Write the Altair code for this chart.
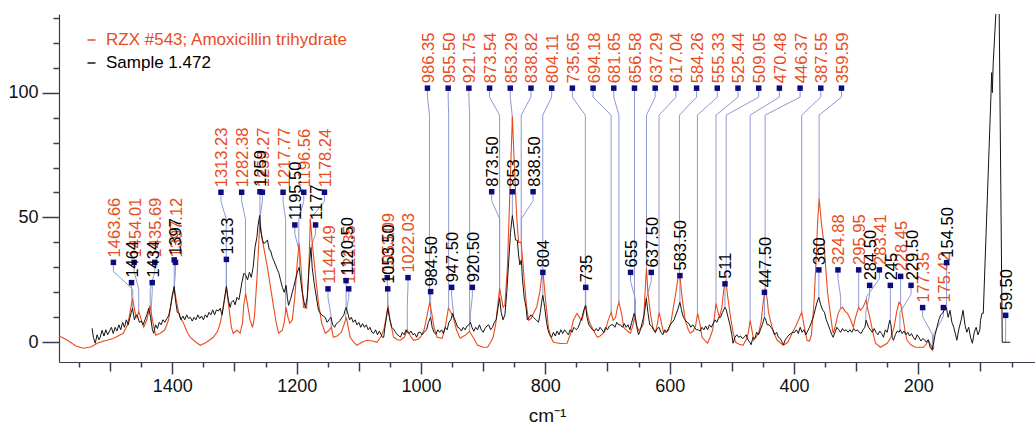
import altair as alt
import numpy as np
import pandas as pd

REF_NAME = "RZX #543; Amoxicillin trihydrate"
SMP_NAME = "Sample 1.472"

# ---------------- spectra (wavenumber cm-1, intensity) ----------------
ref_spectrum = [
    (1582, 2.5), (1570, 1.0), (1555, -1.5), (1543, -2.4), (1530, -1.8), (1521, -0.4), (1510, 0.5), (1495, 1.5), (1485, 2.8), (1479, 3.6),
    (1472, 7), (1468, 12), (1464, 17.6), (1460, 12), (1457, 10), (1454, 12.4), (1450, 9), (1446, 6), (1441, 9), (1436, 14.8),
    (1432, 9), (1427, 2.8), (1420, 3.5), (1412, 5), (1406, 9), (1401, 17), (1397, 21.6), (1393, 16), (1388, 10), (1382, 7.6),
    (1376, 4), (1371, 2), (1362, 0), (1355, -1.2), (1345, 0), (1334, 2), (1327, 4.5), (1323, 7.6), (1318, 14), (1313, 22),
    (1309, 14), (1305, 6), (1302, 3.6), (1296, 4.8), (1291, 3.6), (1287, 8), (1285, 15), (1282, 19.6), (1279, 15), (1275, 9),
    (1271, 6), (1268, 10), (1264, 25), (1259, 48.8), (1256, 42), (1253, 38), (1247, 30), (1242, 22), (1237, 14), (1233, 8),
    (1229, 3.6), (1223, 4.8), (1220, 8), (1217, 14), (1214, 10), (1211, 7.6), (1207, 9), (1203, 18), (1199, 32), (1196, 39.6),
    (1193, 30), (1189, 14), (1184, 13.6), (1181, 25), (1178, 49.6), (1175, 40), (1170, 27.6), (1165, 16), (1160, 8), (1154, 3.6),
    (1149, 4.5), (1144, 6), (1141, 2), (1135, 2.5), (1128, 4), (1124, 7), (1120, 10), (1117, 6), (1114, 2), (1108, 0),
    (1103, -1.2), (1095, 0), (1087, 0.8), (1078, 0.5), (1071, 0), (1065, 2), (1060, 4.8), (1056, 10), (1053, 14.8), (1050, 9),
    (1044, 2), (1038, 1), (1033, 0.8), (1027, 2), (1022, 4.8), (1017, 2.5), (1012, 0.8), (1005, 1.2), (1001, 2), (995, 5),
    (990, 11), (986, 16), (983, 12), (979, 6), (974, 2), (966, 1.6), (961, 6), (956, 13.6), (952, 12), (948, 10),
    (943, 5), (937, 1.6), (929, 2.8), (922, 4.4), (915, 1.5), (909, -1.2), (900, -2), (893, -2), (888, 0), (884, 2),
    (880, 7), (876, 16), (873.5, 21.6), (870, 17), (868, 14), (865, 15), (861, 30), (857, 60), (853, 90.5), (850, 72),
    (846, 50), (843, 40), (839, 40), (836, 32), (834, 24.8), (830, 14), (827, 8.8), (823, 9.5), (819, 11.6), (814, 14),
    (809, 20), (806, 26), (804, 28.8), (800, 18), (795, 6), (791, 2), (787, 0), (776, -0.5), (765, -0.4), (760, 3),
    (755, 8.8), (749, 11.6), (744, 9.5), (741, 8.8), (738, 12), (735.5, 14.8), (732, 11), (729, 8), (725, 6), (720, 3.5),
    (716, 2), (712, 2.5), (707, 3.6), (703, 5), (699, 8.8), (694, 12), (691, 8.8), (687, 10), (684, 14), (681.5, 16),
    (677, 11), (674, 6), (668, 4.5), (663, 3.6), (659, 7), (656.5, 10), (653, 6.5), (650, 4.8), (645, 6), (642, 7.6),
    (640, 18), (637.3, 29.6), (635, 20), (631, 11.6), (627, 6), (623, 4), (620, 7), (617, 12), (613, 7.5), (610, 4),
    (606, 4), (602, 4.8), (598, 8), (594, 14), (590, 20), (587, 25), (584, 27.6), (580, 18), (575, 8.8), (570, 5),
    (567, 3.6), (562, 4.5), (558, 7), (555, 11.6), (551, 7), (548, 2), (539, -0.4), (535, 2), (531, 4.8), (528, 10),
    (525.5, 15.6), (522, 12), (520, 10), (516, 14), (513, 21), (509.5, 24.8), (507, 19), (502, 10), (498, 4), (494, 0),
    (488, -0.8), (482, -1.2), (476, 1.5), (473, 4.5), (470.5, 8.8), (467, 4), (465, 0.8), (461, 2), (457, 3.6), (453, 8),
    (450, 15), (446.5, 21.6), (443, 17), (441, 12), (438, 8.8), (433, 4), (427, 0.8), (417, -1.2), (410, 0), (403, 3.6),
    (396, 7), (391, 10), (387.5, 12), (384, 7), (379, 0.8), (375, 0.5), (372, 3), (368, 15), (365, 30), (362, 48),
    (359.5, 57.6), (356, 48), (352, 40), (349.5, 31.6), (346, 20), (341.6, 11.6), (338, 5), (336.7, 3.6), (333, 7), (329, 11.6),
    (325, 13.5), (322, 14), (318, 12.5), (314, 11.6), (309, 9), (304.5, 6), (301, 10), (296, 14), (293, 12.8), (289, 14),
    (284, 16.8), (281, 13), (277, 8.8), (273, 4), (269, -0.4), (261, -2), (250, -0.4), (244, 2), (239, 6), (235, 12),
    (231, 16), (228, 15), (224, 8.8), (221, 4), (218, 0.8), (212, -1), (205, -2), (198, -2), (192, -2), (188, -1),
    (184, 0.8), (180, -1), (177, -3.2), (175, -2),
]

sample_spectrum = [
    (1529, 5.6), (1527, 2), (1524, -0.4), (1521, 3), (1518, 1), (1516, 2), (1513, 4.8), (1510, 2.5), (1507, 5), (1504, 3),
    (1501, 4.5), (1498, 6), (1495, 3.5), (1492, 6), (1489, 4.5), (1486, 7), (1483, 5), (1480, 8), (1477, 6), (1474, 9),
    (1471, 7), (1468, 10), (1466, 12), (1464, 13.6), (1461, 9), (1458, 11), (1456, 10.5), (1453, 8), (1450, 8.5), (1447, 7),
    (1444, 9), (1441, 11), (1438, 13.6), (1435, 10), (1432, 5), (1430, 3.6), (1427, 7), (1424, 5.5), (1421, 8), (1418, 7),
    (1415, 9), (1412, 8), (1409, 9.5), (1406, 10.5), (1403, 14), (1400, 19), (1397, 22.4), (1395, 17), (1392, 12), (1389, 11.6),
    (1386, 9), (1383, 10.5), (1380, 9), (1377, 11), (1374, 9.5), (1371, 10), (1368, 8.5), (1365, 10), (1362, 9), (1359, 11),
    (1356, 9.5), (1353, 10.5), (1350, 9), (1347, 11), (1344, 10), (1341, 12), (1338, 11), (1335, 13), (1332, 11), (1329, 13),
    (1326, 12.5), (1323, 13.6), (1320, 11), (1317, 16), (1313, 22.4), (1310, 17), (1307, 14), (1305, 16), (1302, 16.8), (1299, 15),
    (1296, 18), (1293, 17), (1291, 19.6), (1288, 24), (1285, 27.6), (1282, 27), (1279, 25), (1276, 28), (1273, 26), (1270, 30),
    (1267, 38), (1264, 42), (1262, 47), (1259.5, 50.8), (1258, 45), (1255, 41), (1253, 39.6), (1250, 40), (1247, 41), (1244, 37),
    (1242, 36.8), (1239, 34), (1237, 32.8), (1234, 31), (1231, 29), (1229, 28), (1226, 25), (1223, 22), (1220, 20), (1217, 22.8),
    (1215, 18), (1213, 14.8), (1210, 17), (1207, 20), (1205, 22), (1202, 25), (1199, 28), (1196, 30), (1194, 26), (1191, 20),
    (1188, 16), (1186, 14), (1183, 18), (1180, 30), (1177, 38), (1175, 30), (1172, 24), (1170, 20.8), (1167, 16), (1165, 13),
    (1163, 12), (1160, 11), (1157, 10.5), (1154, 10), (1151, 8), (1148, 9), (1145, 10), (1142, 7), (1139, 6), (1136, 7.5),
    (1133, 8), (1130, 8.8), (1127, 10), (1124, 11), (1122, 13), (1120.5, 14), (1117, 11), (1115, 9), (1112, 10), (1109, 8),
    (1106, 9), (1103, 7), (1100, 8), (1097, 6), (1094, 7.5), (1091, 6), (1088, 7), (1085, 5), (1082, 6), (1079, 4),
    (1076, 3.6), (1073, 5), (1070, 3), (1067, 4.5), (1064, 3), (1062, 2), (1060, 2), (1058, 6), (1055, 11), (1053.5, 13.6),
    (1050, 9), (1047, 6), (1044, 5.2), (1041, 4), (1038, 3), (1035, 2.5), (1033, 2), (1030, 4), (1027, 3), (1024, 5),
    (1022, 4), (1019, 3.5), (1016, 4.5), (1013, 3), (1010, 3.5), (1007, 2), (1004, 4), (1001, 4), (998, 3), (995, 4),
    (991, 5), (988, 8), (984.5, 10), (982, 6), (979, 4), (976, 3.2), (973, 5), (970, 4), (967, 5), (964, 3.5),
    (961, 6), (958, 5), (955, 8), (952, 9), (949, 11.6), (947, 10), (944, 8), (941, 6), (938, 5.6), (935, 4.5),
    (932, 6), (929, 5), (926, 6.5), (923, 7), (920.5, 8), (918, 6), (915, 4.4), (912, 6), (909, 5), (906, 7),
    (903, 5), (900, 4), (897, 5.5), (894, 6.5), (891, 7), (888, 5), (885, 6), (882, 8), (879, 9), (876, 14),
    (873.5, 17.6), (871, 12), (868, 9), (865, 11), (862, 20), (859, 32), (856, 44), (853, 50.8), (850, 45), (848, 41),
    (845, 40.8), (843, 35), (841, 31), (838.5, 33), (837, 26), (834, 18), (831, 14), (829, 9), (826, 10), (823, 11),
    (819, 10), (815, 9), (811, 8), (808, 12), (806, 16), (804, 18.8), (801, 14), (798, 8), (796, 5.2), (793, 3),
    (790, 2), (787, 4), (784, 2.5), (781, 4.5), (778, 3), (775, 5), (772, 3.5), (769, 5), (766, 4), (763, 3),
    (760, 5), (757, 4), (754, 6), (750, 5), (747, 6), (744, 8), (741, 10), (738, 13), (735, 14.8), (733, 10),
    (730, 7), (727, 6), (724, 5), (721, 4.5), (718, 5.5), (715, 4.5), (712, 6), (709, 5), (706, 4), (703, 6),
    (700, 5), (697, 6.5), (694, 7), (691, 7), (688, 6), (685, 8), (682, 7), (679, 7), (676, 6), (673, 7.5),
    (670, 6), (667, 7), (664, 5), (661, 8), (657, 11.6), (655, 10), (652, 5), (650, 3), (647, 5), (644, 8),
    (641, 11), (637.5, 17.6), (635, 12), (632, 7), (629, 6.5), (626, 5), (623, 4), (620, 5.5), (617, 6), (614, 4),
    (611, 3), (608, 5), (605, 4), (602, 5.5), (599, 7), (596, 8), (593, 9), (590, 11), (587, 13), (583.5, 16),
    (581, 13), (578, 10), (575, 9), (572, 8), (569, 7.5), (566, 6), (563, 7), (560, 6), (557, 5), (554, 5),
    (551, 4.5), (548, 6), (545, 5), (542, 6.5), (539, 5), (536, 7), (533, 6), (530, 7.5), (527, 9), (524, 8),
    (521, 10), (518, 10), (515, 12), (511, 14), (509, 13), (506, 10), (503, 7), (500, 3), (498, -0.4), (495, 2),
    (492, 3), (489, 2), (486, 2.5), (483, 1.5), (480, 2), (477, 3), (474, 1), (471, 0), (469, -1), (466, 2),
    (463, 1.5), (460, 4), (457, 3), (454, 5), (451, 7), (447.5, 10), (446, 9.5), (443, 7), (440, 7), (437, 6),
    (434, 5), (431, 3), (428, 4), (425, 2), (422, 1.5), (419, 0), (417, -1), (414, 1), (411, 2), (408, 3),
    (405, 3.5), (402, 4), (399, 4), (396, 5), (393, 3.5), (390, 6), (387, 4), (384, 5), (381, 3), (378, 4.5),
    (375, 6), (372, 8), (369, 10), (366, 13), (363, 16), (360, 18), (357, 15), (354, 13), (351, 12), (348, 9),
    (345, 7), (342, 5), (339, 3), (337, 2), (334, 4), (331, 6), (328, 5), (325, 4), (322, 5.5), (319, 4.5),
    (316, 5), (313, 4), (310, 5), (307, 4), (304, 5.5), (301, 4.5), (298, 5), (295, 4), (292, 3.5), (289, 5),
    (286, 6), (284, 8.8), (280, 6), (277, 5), (274, 4), (271, 5.5), (268, 4), (265, 3), (262, 4.5), (259, 3.5),
    (256, 2), (253, 5), (250, 4), (246, 8.8), (244, 7), (242, 2), (240, 0.8), (237, 3), (234, 4.5), (231, 4),
    (229, 5), (226, 3.5), (223, 4.5), (220, 3), (217, 4), (214, 2.5), (211, 3.5), (208, 2), (205, 1), (202, 3),
    (199, 2), (196, 0.5), (193, 1.5), (190, 1), (187, 0), (184, 1), (181, -2), (178, -3), (176, -1), (173, 3),
    (170, 6), (167, 9), (164, 11), (161, 11.6), (158, 13), (155, 14), (152, 10), (149, 12.8), (146, 8), (143, 6),
    (140, 3), (138, 0.8), (135, 5), (131, 9), (128, 12.8), (125, 7), (122, 4), (119, 6), (116, 2), (113, -0.4),
    (110, 4), (107, 6), (104, 3), (101, 5), (100, 8.8), (97.5, 11.6), (95.5, 11.6), (83, 100), (82, 108), (81, 100),
    (79.5, 112), (74.5, 135), (72, 170), (70, 135), (65, 0), (58, 0), (52, 0),
]

# ---------------- peak annotations ----------------
ref_peak_wn = [1463.66, 1454.01, 1435.69, 1397.12,
               1313.23, 1282.38, 1259.27, 1217.77, 1196.56, 1178.24,
               1144.49, 1121.35, 1053.09, 1022.03,
               986.35, 955.50, 921.75, 873.54, 853.29, 838.82, 804.11, 735.65, 694.18, 681.65, 656.58,
               637.29, 617.04, 584.26, 555.33, 525.44, 509.05, 470.48, 446.37, 387.55, 359.59,
               324.88, 295.95, 283.41, 228.45, 177.35, 175.42]
ref_peak_level = [32, 32, 32, 32,
                  60.1, 60.1, 60.1, 60.1, 60.1, 60.1,
                  21.4, 21.4, 25.9, 25.9,
                  101.8, 101.8, 101.8, 101.8, 101.8, 101.8, 101.8, 101.8, 101.8, 101.8, 101.8,
                  101.8, 101.8, 101.8, 101.8, 101.8, 101.8, 101.8, 101.8, 101.8, 101.8,
                  29, 29, 29, 26.4, 13.9, 13.9]

smp_peak_wn = [1464, 1434, 1397, 1313, 1259, 1195.5, 1177, 1120.5, 1053.5, 984.5, 947.5, 920.5,
               873.5, 853, 838.5, 804, 735, 655, 637.5, 583.5, 511, 447.5, 360, 284.5, 245, 229.5,
               154.5, 59.5]
smp_peak_level = [23.9, 23.9, 33, 33.2, 60.3, 47, 47, 24.7, 21.4, 20.3, 22, 22,
                  60.3, 60.3, 60.3, 28, 22, 28, 28, 26.7, 23.4, 20, 29, 22.8, 22.8, 22.8,
                  31.9, 10.8]

x_tick_values = list(range(50, 1551, 50))
y_tick_values = list(range(0, 131, 10))

ORANGE = "#e84c1e"
BLACK = "#141414"
NAVY = "#0c0c80"
LEADER = "#8f98d4"
FONT = "Liberation Sans"
GAP = 33.3  # minimum label spacing, cm-1


def spread(values, gap):
    """Place labels in order, at least `gap` apart, each overlapping run centred on its median peak."""
    order = sorted(range(len(values)), key=lambda i: -values[i])
    clusters = []
    for i in order:
        clusters.append([values[i]])
        while len(clusters) > 1:
            a, b = clusters[-2], clusters[-1]
            a_last = np.median(a) - (len(a) - 1) / 2 * gap
            b_first = np.median(b) + (len(b) - 1) / 2 * gap
            if a_last - b_first < gap:
                clusters[-2] = a + b
                clusters.pop()
            else:
                break
    placed = []
    for c in clusters:
        m, n = float(np.median(c)), len(c)
        placed += [m + ((n - 1) / 2 - k) * gap for k in range(n)]
    out = [0.0] * len(values)
    for rank, i in enumerate(order):
        out[i] = placed[rank]
    return out


def fmt(v, always_decimals):
    if always_decimals or v % 1:
        return f"{v:.2f}"
    return f"{int(v)}"


def annotate(peaks, levels, spectrum, series, always_decimals):
    wn = np.array([p[0] for p in spectrum], dtype=float)[::-1]
    it = np.array([p[1] for p in spectrum], dtype=float)[::-1]
    cols = [0.0] * len(peaks)
    for lev in sorted(set(levels)):
        idx = [i for i, l in enumerate(levels) if l == lev]
        pos = spread([peaks[i] for i in idx], GAP)
        for i, p in zip(idx, pos):
            cols[i] = p
    marks, lines = [], []
    for i, (p, lev) in enumerate(zip(peaks, levels)):
        top = float(np.interp(p, wn, it))
        mid = max(top, lev - 10.8)
        pts = [(cols[i], lev), (cols[i], lev - 3.6), (p, mid), (p, top)]
        for k, (x, y) in enumerate(pts):
            lines.append({"id": f"{series}{i}", "k": k, "x": x, "y": y})
        marks.append({"x": cols[i], "y": lev, "label": fmt(p, always_decimals)})
    return pd.DataFrame(marks), pd.DataFrame(lines)


ref_marks, ref_lines = annotate(ref_peak_wn, ref_peak_level, ref_spectrum, "r", True)
smp_marks, smp_lines = annotate(smp_peak_wn, smp_peak_level, sample_spectrum, "s", False)
leaders = pd.concat([ref_lines, smp_lines], ignore_index=True)

ref_df = pd.DataFrame(ref_spectrum, columns=["x", "y"])
ref_df["s"] = REF_NAME
smp_df = pd.DataFrame(sample_spectrum, columns=["x", "y"])
smp_df["t"] = SMP_NAME

x_scale = alt.Scale(domain=[12.3, 1582.3], reverse=True, nice=False, zero=False)
y_scale = alt.Scale(domain=[-7.9, 131.5], nice=False, zero=False)
x_axis = alt.Axis(
    values=x_tick_values, format="d", title="cm⁻¹", grid=False,
    labelExpr="datum.value % 200 == 0 ? datum.label : ''",
    tickSize={"expr": "datum.value % 200 == 0 ? 12 : (datum.value % 100 == 0 ? 9 : 5)"},
    labelPadding=3, titlePadding=11, labelOverlap=False, labelFlush=False,
)
y_axis = alt.Axis(
    values=y_tick_values, format="d", title=None, grid=False,
    labelExpr="datum.value % 50 == 0 ? datum.label : ''",
    tickSize={"expr": "datum.value % 50 == 0 ? 17 : 6"},
    labelPadding=4, labelOverlap=False, labelFlush=False,
)
X = alt.X("x:Q", scale=x_scale, axis=x_axis)
Y = alt.Y("y:Q", scale=y_scale, axis=y_axis)

leader_layer = alt.Chart(leaders).mark_line(strokeWidth=1, color=LEADER).encode(
    X, Y, detail="id:N", order="k:Q"
)

legend_common = dict(orient="none", legendX=24, title=None, symbolType="stroke", symbolSize=64,
                     symbolStrokeWidth=1.5, labelFont=FONT, labelFontSize=17, labelOffset=6,
                     padding=0, labelLimit=600)

ref_line = alt.Chart(ref_df).mark_line(clip=True, strokeWidth=1.1).encode(
    X, Y,
    color=alt.Color("s:N", scale=alt.Scale(domain=[REF_NAME], range=[ORANGE]),
                    legend=alt.Legend(legendY=17.5, labelColor=ORANGE, **legend_common)),
)
smp_line = alt.Chart(smp_df).mark_line(clip=True, strokeWidth=1).encode(
    X, Y,
    stroke=alt.Stroke("t:N", scale=alt.Scale(domain=[SMP_NAME], range=[BLACK]),
                      legend=alt.Legend(legendY=40.5, labelColor="#000000", **legend_common)),
)

ref_sq = alt.Chart(ref_marks).mark_square(size=30, color=NAVY, opacity=1).encode(X, Y)
ref_txt = alt.Chart(ref_marks).mark_text(
    angle=270, align="left", baseline="middle", dx=5, dy=1.5,
    font=FONT, fontSize=16.5, color=ORANGE
).encode(X, Y, text="label:N")
smp_sq = alt.Chart(smp_marks).mark_square(size=30, color=NAVY, opacity=1).encode(X, Y)
smp_txt = alt.Chart(smp_marks).mark_text(
    angle=270, align="left", baseline="middle", dx=5, dy=1.5,
    font=FONT, fontSize=16.5, color="#000000"
).encode(X, Y, text="label:N")

chart = alt.layer(
    leader_layer, ref_line, smp_line, ref_sq, ref_txt, smp_sq, smp_txt
).properties(
    width=976, height=348,
    autosize=alt.AutoSizeParams(type="none"),
    padding={"left": 59, "top": 14, "right": 0, "bottom": 66},
    background="white",
).configure_view(stroke=None).configure_axis(
    domainColor="#3b3b55", domainWidth=1.2, tickColor="#3b3b55", tickWidth=1.5,
    labelColor="#111111", labelFont=FONT, labelFontSize=18,
    titleFont=FONT, titleFontSize=19, titleFontWeight="normal", titleColor="#111111",
)

chart.save("out.html", embed_options={"renderer": "svg", "actions": False})
